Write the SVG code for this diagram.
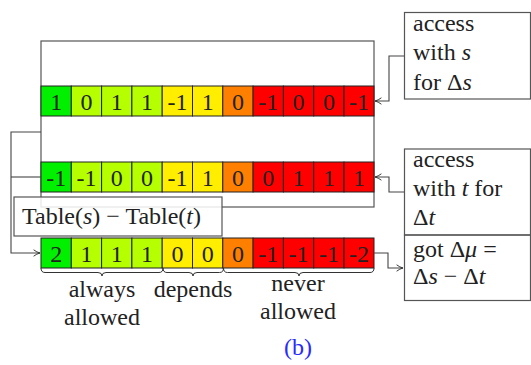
<svg xmlns="http://www.w3.org/2000/svg" width="531" height="365" viewBox="0 0 531 365">
<defs>
<marker id="arr" viewBox="0 0 10 10" refX="9" refY="5" markerWidth="8" markerHeight="8" markerUnits="userSpaceOnUse" orient="auto">
<path d="M1,1 Q5,4 9,5 Q5,6 1,9" fill="none" stroke="#333" stroke-width="1.2"/>
</marker>
</defs>
<rect id="frame" x="41" y="41" width="333" height="166" fill="none" stroke="#555" stroke-width="1.2"/>

<g id="row1" stroke="#222" stroke-width="1">
<rect fill="#00f000" x="41" y="86" width="30.3" height="30"/>
<rect fill="#b5ff00" x="71.3" y="86" width="30.3" height="30"/>
<rect fill="#b5ff00" x="101.6" y="86" width="30.3" height="30"/>
<rect fill="#b5ff00" x="131.9" y="86" width="30.3" height="30"/>
<rect fill="#ffee00" x="162.2" y="86" width="30.3" height="30"/>
<rect fill="#ffee00" x="192.5" y="86" width="30.3" height="30"/>
<rect fill="#ff7f00" x="222.8" y="86" width="30.3" height="30"/>
<rect fill="#ff0000" x="253.1" y="86" width="30.3" height="30"/>
<rect fill="#ff0000" x="283.4" y="86" width="30.3" height="30"/>
<rect fill="#ff0000" x="313.7" y="86" width="30.3" height="30"/>
<rect fill="#ff0000" x="344" y="86" width="30" height="30"/>
</g>
<g id="row1-values" fill="#222" text-anchor="middle">
<text font-family="Liberation Serif" font-size="24" x="56.2" y="110">1</text>
<text font-family="Liberation Serif" font-size="24" x="86.5" y="110">0</text>
<text font-family="Liberation Serif" font-size="24" x="116.8" y="110">1</text>
<text font-family="Liberation Serif" font-size="24" x="147.1" y="110">1</text>
<text font-family="Liberation Serif" font-size="24" x="177.4" y="110">-1</text>
<text font-family="Liberation Serif" font-size="24" x="207.7" y="110">1</text>
<text font-family="Liberation Serif" font-size="24" x="238" y="110">0</text>
<text font-family="Liberation Serif" font-size="24" x="268.3" y="110">-1</text>
<text font-family="Liberation Serif" font-size="24" x="298.6" y="110">0</text>
<text font-family="Liberation Serif" font-size="24" x="328.9" y="110">0</text>
<text font-family="Liberation Serif" font-size="24" x="359" y="110">-1</text>
</g>

<g id="row2" stroke="#222" stroke-width="1">
<rect fill="#00f000" x="41" y="162" width="30.3" height="30"/>
<rect fill="#b5ff00" x="71.3" y="162" width="30.3" height="30"/>
<rect fill="#b5ff00" x="101.6" y="162" width="30.3" height="30"/>
<rect fill="#b5ff00" x="131.9" y="162" width="30.3" height="30"/>
<rect fill="#ffee00" x="162.2" y="162" width="30.3" height="30"/>
<rect fill="#ffee00" x="192.5" y="162" width="30.3" height="30"/>
<rect fill="#ff7f00" x="222.8" y="162" width="30.3" height="30"/>
<rect fill="#ff0000" x="253.1" y="162" width="30.3" height="30"/>
<rect fill="#ff0000" x="283.4" y="162" width="30.3" height="30"/>
<rect fill="#ff0000" x="313.7" y="162" width="30.3" height="30"/>
<rect fill="#ff0000" x="344" y="162" width="30" height="30"/>
</g>
<g id="row2-values" fill="#222" text-anchor="middle">
<text font-family="Liberation Serif" font-size="24" x="56.2" y="186">-1</text>
<text font-family="Liberation Serif" font-size="24" x="86.5" y="186">-1</text>
<text font-family="Liberation Serif" font-size="24" x="116.8" y="186">0</text>
<text font-family="Liberation Serif" font-size="24" x="147.1" y="186">0</text>
<text font-family="Liberation Serif" font-size="24" x="177.4" y="186">-1</text>
<text font-family="Liberation Serif" font-size="24" x="207.7" y="186">1</text>
<text font-family="Liberation Serif" font-size="24" x="238" y="186">0</text>
<text font-family="Liberation Serif" font-size="24" x="268.3" y="186">0</text>
<text font-family="Liberation Serif" font-size="24" x="298.6" y="186">1</text>
<text font-family="Liberation Serif" font-size="24" x="328.9" y="186">1</text>
<text font-family="Liberation Serif" font-size="24" x="359" y="186">1</text>
</g>

<g id="row3" stroke="#222" stroke-width="1">
<rect fill="#00f000" x="41" y="238" width="30.3" height="30"/>
<rect fill="#b5ff00" x="71.3" y="238" width="30.3" height="30"/>
<rect fill="#b5ff00" x="101.6" y="238" width="30.3" height="30"/>
<rect fill="#b5ff00" x="131.9" y="238" width="30.3" height="30"/>
<rect fill="#ffee00" x="162.2" y="238" width="30.3" height="30"/>
<rect fill="#ffee00" x="192.5" y="238" width="30.3" height="30"/>
<rect fill="#ff7f00" x="222.8" y="238" width="30.3" height="30"/>
<rect fill="#ff0000" x="253.1" y="238" width="30.3" height="30"/>
<rect fill="#ff0000" x="283.4" y="238" width="30.3" height="30"/>
<rect fill="#ff0000" x="313.7" y="238" width="30.3" height="30"/>
<rect fill="#ff0000" x="344" y="238" width="30" height="30"/>
</g>
<g id="row3-values" fill="#222" text-anchor="middle">
<text font-family="Liberation Serif" font-size="24" x="56.2" y="262">2</text>
<text font-family="Liberation Serif" font-size="24" x="86.5" y="262">1</text>
<text font-family="Liberation Serif" font-size="24" x="116.8" y="262">1</text>
<text font-family="Liberation Serif" font-size="24" x="147.1" y="262">1</text>
<text font-family="Liberation Serif" font-size="24" x="177.4" y="262">0</text>
<text font-family="Liberation Serif" font-size="24" x="207.7" y="262">0</text>
<text font-family="Liberation Serif" font-size="24" x="238" y="262">0</text>
<text font-family="Liberation Serif" font-size="24" x="268.3" y="262">-1</text>
<text font-family="Liberation Serif" font-size="24" x="298.6" y="262">-1</text>
<text font-family="Liberation Serif" font-size="24" x="328.9" y="262">-1</text>
<text font-family="Liberation Serif" font-size="24" x="359" y="262">-2</text>
</g>

<g id="connectors" fill="none" stroke="#444" stroke-width="1.1">
<path d="M41,132 H11 V253 H40" marker-end="url(#arr)"/>
<path d="M41,177 H11"/>
<path d="M404,56 H389 V101 H375" marker-end="url(#arr)"/>
<path d="M404,192 H389 V177 H375" marker-end="url(#arr)"/>
<path d="M374,253 H388 V268 H403" marker-end="url(#arr)"/>
</g>

<g id="diff-label">
<rect x="14" y="197" width="208" height="39" fill="#fff" fill-opacity="0.85" stroke="#555" stroke-width="1.2"/>
<text font-family="Liberation Serif" font-size="24" fill="#222" x="22" y="224">Table(<tspan font-style="italic">s</tspan>) − Table(<tspan font-style="italic">t</tspan>)</text>
</g>

<g id="note-s" fill="#222">
<rect x="404.5" y="12.5" width="126" height="86.5" fill="none" stroke="#555" stroke-width="1.2"/>
<text font-family="Liberation Serif" font-size="24" x="413" y="31">access</text>
<text font-family="Liberation Serif" font-size="24" x="413" y="60">with <tspan font-style="italic">s</tspan></text>
<text font-family="Liberation Serif" font-size="24" x="413" y="90">for Δ<tspan font-style="italic">s</tspan></text>
</g>

<g id="note-t" fill="#222">
<rect x="404.5" y="149" width="126" height="86" fill="none" stroke="#555" stroke-width="1.2"/>
<text font-family="Liberation Serif" font-size="24" x="413" y="167">access</text>
<text font-family="Liberation Serif" font-size="24" x="413" y="196">with <tspan font-style="italic">t</tspan> for</text>
<text font-family="Liberation Serif" font-size="24" x="413" y="225">Δ<tspan font-style="italic">t</tspan></text>
</g>

<g id="note-mu" fill="#222">
<rect x="404.5" y="235" width="126" height="65.5" fill="none" stroke="#555" stroke-width="1.2"/>
<text font-family="Liberation Serif" font-size="24" x="413" y="257">got Δ<tspan font-style="italic">μ</tspan> =</text>
<text font-family="Liberation Serif" font-size="24" x="413" y="284">Δ<tspan font-style="italic">s</tspan> − Δ<tspan font-style="italic">t</tspan></text>
</g>

<g id="braces" fill="none" stroke="#333" stroke-width="1">
<path d="M41,268 Q41,272.5 45,272.5 H98 Q102,272.5 102,276 Q102,272.5 106,272.5 H159 Q163,272.5 163,268"/>
<path d="M163,268 Q163,272.5 167,272.5 H189 Q193,272.5 193,276 Q193,272.5 197,272.5 H219.5 Q223.5,272.5 223.5,268"/>
<path d="M223.5,268 Q223.5,272.5 227.5,272.5 H295 Q299,272.5 299,276 Q299,272.5 303,272.5 H370 Q374,272.5 374,268"/>
</g>

<g id="brace-labels" fill="#222" text-anchor="middle">
<text font-family="Liberation Serif" font-size="24" x="102" y="297">always</text>
<text font-family="Liberation Serif" font-size="24" x="102" y="325">allowed</text>
<text font-family="Liberation Serif" font-size="24" x="193" y="297">depends</text>
<text font-family="Liberation Serif" font-size="24" x="298" y="291">never</text>
<text font-family="Liberation Serif" font-size="24" x="298" y="319">allowed</text>
</g>

<text font-family="Liberation Serif" font-size="24" fill="#2a2aff" text-anchor="middle" x="298" y="355">(b)</text>
</svg>
